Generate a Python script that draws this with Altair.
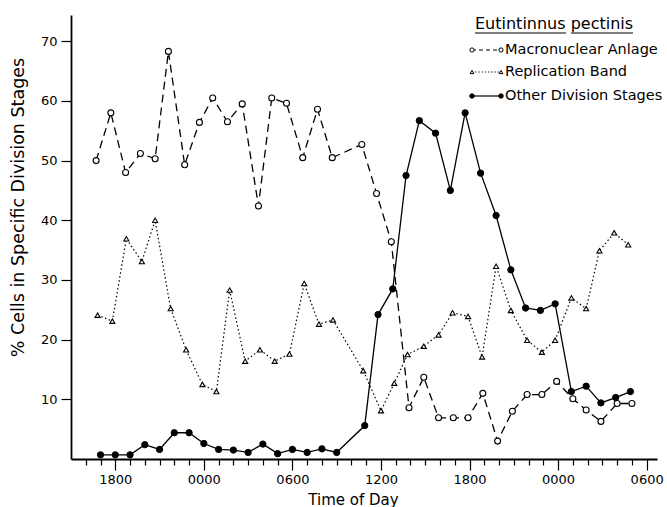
import altair as alt
import pandas as pd

# x = hours after the first 1800 tick on the time axis
macro_t = [-1.3, -0.3, 0.7, 1.7, 2.7, 3.6, 4.7, 5.7, 6.6, 7.6, 8.6, 9.7, 10.6, 11.6, 12.7, 13.7, 14.7,
           16.7, 17.7, 18.7, 19.9, 20.9, 21.9, 22.9, 23.9, 24.9, 25.9, 26.9, 27.9, 28.9, 29.9, 31.0,
           31.9, 32.9, 34.0, 35.0]
macro_v = [50.0, 58.0, 48.0, 51.2, 50.3, 68.3, 49.3, 56.4, 60.5, 56.5, 59.5, 42.4, 60.5, 59.6, 50.5, 58.6, 50.5,
           52.7, 44.5, 36.4, 8.6, 13.7, 6.9, 6.9, 6.9, 11.0, 3.0, 8.0, 10.8, 10.8, 13.0, 10.1,
           8.2, 6.3, 9.3, 9.3]

repl_t = [-1.2, -0.2, 0.75, 1.8, 2.7, 3.75, 4.8, 5.9, 6.85, 7.75, 8.8, 9.8, 10.8, 11.8, 12.8, 13.8, 14.75,
          16.8, 18.0, 18.9, 19.8, 20.9, 21.9, 22.85, 23.9, 24.85, 25.8, 26.8, 27.9, 28.9, 29.8, 30.9,
          31.9, 32.8, 33.8, 34.75]
repl_v = [24.1, 23.1, 36.9, 33.1, 40.0, 25.2, 18.3, 12.5, 11.3, 28.3, 16.4, 18.3, 16.4, 17.6, 29.4, 22.6, 23.3,
          14.8, 8.1, 12.7, 17.5, 18.9, 20.8, 24.5, 23.9, 17.1, 32.3, 24.9, 19.9, 17.9, 19.9, 27.0,
          25.2, 34.9, 37.9, 35.9]

other_t = [-1, 0, 1, 2, 3, 4, 5, 6, 7, 8, 9, 10, 11, 12, 13, 14, 15,
           16.9, 17.8, 18.8, 19.7, 20.6, 21.7, 22.7, 23.7, 24.75, 25.8, 26.8, 27.8, 28.8, 29.8, 30.9,
           31.9, 32.9, 33.9, 34.9]
other_v = [0.7, 0.7, 0.7, 2.4, 1.6, 4.4, 4.4, 2.6, 1.6, 1.5, 1.1, 2.5, 0.9, 1.6, 1.1, 1.7, 1.1,
           5.6, 24.2, 28.5, 47.5, 56.7, 54.6, 45.0, 58.0, 47.9, 40.8, 31.7, 25.3, 24.9, 26.0, 11.3,
           12.2, 9.4, 10.3, 11.3]

tick_hours = [0, 6, 12, 18, 24, 30, 36]
tick_labels = ["1800", "0000", "0600", "1200", "1800", "0000", "0600"]
minor_hours = list(range(-2, 37))
y_ticks = [10, 20, 30, 40, 50, 60, 70]
series_names = ["Macronuclear Anlage", "Replication Band", "Other Division Stages"]
legend_title = "Eutintinnus pectinis"
x_title = "Time of Day"
y_title = "% Cells in Specific Division Stages"

FONT = "DejaVu Sans"

macro = pd.DataFrame({"t": macro_t, "v": macro_v})
repl = pd.DataFrame({"t": repl_t, "v": repl_v})
other = pd.DataFrame({"t": other_t, "v": other_v})

label_expr = "".join(f"datum.value == {h} ? '{l}' : " for h, l in zip(tick_hours, tick_labels)) + "''"

X = alt.X("t:Q",
          scale=alt.Scale(domain=[-3, 36.7], nice=False, zero=False),
          axis=alt.Axis(values=minor_hours, labelExpr=label_expr, grid=False,
                        tickSize={"condition": {"test": f"indexof({tick_hours}, datum.value) >= 0", "value": 11},
                                  "value": 6},
                        labelPadding=3, labelFlush=False, labelOverlap=False,
                        title=x_title, titleFontSize=15, titleFontWeight="normal",
                        titleX=282, titlePadding=6, titleAnchor="start", titleAlign="center"))
Y = alt.Y("v:Q",
          scale=alt.Scale(domain=[0, 74.4], nice=False),
          axis=alt.Axis(values=y_ticks, grid=False, tickSize=10, labelPadding=4,
                        title=y_title, titleFontSize=17.5, titleFontWeight="normal",
                        titleX=-53, titleY=192, titleAngle=270, titleAlign="center",
                        titleBaseline="middle"))

lw = 1.3
macro_line = alt.Chart(macro).mark_line(color="black", strokeWidth=lw, strokeDash=[8, 5]).encode(x=X, y=Y)
repl_line = alt.Chart(repl).mark_line(color="black", strokeWidth=1.2, strokeDash=[1.5, 2.5]).encode(x=X, y=Y)
other_line = alt.Chart(other).mark_line(color="black", strokeWidth=lw).encode(x=X, y=Y)

macro_pts = alt.Chart(macro).mark_point(shape="circle", filled=True, fill="white", stroke="black",
                                        strokeWidth=1.1, size=36, opacity=1).encode(x=X, y=Y)
repl_pts = alt.Chart(repl).mark_point(shape="triangle-up", filled=True, fill="white", stroke="black",
                                      strokeWidth=1.1, size=26, opacity=1).encode(x=X, y=Y)
other_pts = alt.Chart(other).mark_point(shape="circle", filled=True, fill="black", stroke="black",
                                        strokeWidth=1, size=40, opacity=1).encode(x=X, y=Y)

# legend drawn by hand (pixel positions inside the plot area)
legend_layers = []
leg_x0, leg_x1, leg_text_x = 401, 430, 434
leg_y = [35, 57, 81]
styles = [
    dict(dash=[4, 3], shape="circle", fill="white", size=18),
    dict(dash=[1.2, 2], shape="triangle-up", fill="white", size=14),
    dict(dash=None, shape="circle", fill="black", size=20),
]
for name, yy, st in zip(series_names, leg_y, styles):
    d = pd.DataFrame({"label": [name]})
    rule_kw = dict(color="black", strokeWidth=1.2)
    if st["dash"]:
        rule_kw["strokeDash"] = st["dash"]
    legend_layers.append(alt.Chart(d).mark_rule(**rule_kw).encode(
        x=alt.value(leg_x0), x2=alt.value(leg_x1), y=alt.value(yy)))
    for xx in (leg_x0, leg_x1):
        legend_layers.append(alt.Chart(d).mark_point(shape=st["shape"], filled=True, fill=st["fill"],
                                                     stroke="black", strokeWidth=1, size=st["size"],
                                                     opacity=1).encode(x=alt.value(xx), y=alt.value(yy)))
    legend_layers.append(alt.Chart(d).mark_text(align="left", baseline="middle", font=FONT, fontSize=14.5,
                                                color="black").encode(
        x=alt.value(leg_text_x), y=alt.value(yy), text="label:N"))

td = pd.DataFrame({"label": [legend_title]})
legend_layers.append(alt.Chart(td).mark_text(align="left", baseline="alphabetic", font=FONT, fontSize=16,
                                             color="black").encode(
    x=alt.value(404), y=alt.value(14), text="label:N"))
legend_layers.append(alt.Chart(td).mark_rule(color="black", strokeWidth=1).encode(
    x=alt.value(404), x2=alt.value(495), y=alt.value(18)))
legend_layers.append(alt.Chart(td).mark_rule(color="black", strokeWidth=1).encode(
    x=alt.value(500), x2=alt.value(562), y=alt.value(18)))

chart = alt.layer(
    macro_line, repl_line, other_line, repl_pts, macro_pts, other_pts, *legend_layers
).properties(
    width=586, height=444,
    autosize=alt.AutoSizeParams(type="none"),
    padding={"left": 71, "top": 15, "right": 10, "bottom": 48},
    background="white",
).configure_view(stroke=None).configure_axis(
    domainColor="black", domainWidth=1.8, tickColor="black", tickWidth=1.2,
    labelFont=FONT, labelFontSize=13, labelColor="black",
    titleFont=FONT, titleColor="black",
)

chart.save("out.html", embed_options={"renderer": "svg", "actions": False})
